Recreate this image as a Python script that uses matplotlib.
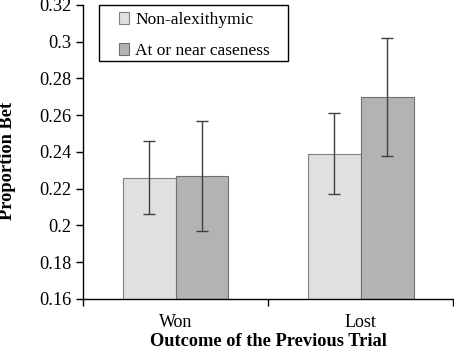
import matplotlib
matplotlib.use("Agg")
import matplotlib.pyplot as plt
from matplotlib.patches import Rectangle
import numpy as np

categories = ["Won", "Lost"]
series_names = ["Non-alexithymic", "At or near caseness"]
non_alex = [0.226, 0.239]
non_alex_lo = [0.206, 0.217]
non_alex_hi = [0.246, 0.261]
caseness = [0.227, 0.270]
caseness_lo = [0.197, 0.238]
caseness_hi = [0.257, 0.302]
yticks = [0.16, 0.18, 0.2, 0.22, 0.24, 0.26, 0.28, 0.3, 0.32]
ytick_labels = ["0.16", "0.18", "0.2", "0.22", "0.24", "0.26", "0.28", "0.3", "0.32"]

plt.rcParams['font.family'] = ['Liberation Serif', 'DejaVu Serif']

fig = plt.figure(figsize=(4.54, 3.5), dpi=100)
ax = fig.add_axes([0.183, 0.146, 0.815, 0.840])

x = np.arange(len(categories))
w = 0.286
na = np.array(non_alex); ca = np.array(caseness)
err_na = [na - np.array(non_alex_lo), np.array(non_alex_hi) - na]
err_ca = [ca - np.array(caseness_lo), np.array(caseness_hi) - ca]
ekw = dict(ecolor="#404040", elinewidth=1.0, capsize=4.5, capthick=1.0)
ax.bar(x - w/2, na, w, bottom=0, color="#e0e0e0", edgecolor="#808080", linewidth=0.8,
       yerr=err_na, error_kw=ekw, label=series_names[0])
ax.bar(x + w/2, ca, w, bottom=0, color="#b3b3b3", edgecolor="#707070", linewidth=0.8,
       yerr=err_ca, error_kw=ekw, label=series_names[1])

ax.set_ylim(0.16, 0.32)
ax.set_xlim(-0.5, 1.5)
ax.set_yticks(yticks)
ax.set_yticklabels(ytick_labels, fontsize=13.2)
ax.set_xticks([-0.5, 0.5, 1.5])
ax.set_xticklabels([])
ax.set_xticks(x, minor=True)
ax.set_xticklabels(categories, minor=True, fontsize=13)
ax.tick_params(axis='x', which='minor', length=0, pad=11)
ax.tick_params(axis='x', which='major', length=5, direction='out', width=1)
ax.tick_params(axis='y', length=5, direction='out', width=1)
for s in ["top", "right"]:
    ax.spines[s].set_visible(False)
for s in ["left", "bottom"]:
    ax.spines[s].set_linewidth(1.0)

ax.set_ylabel("Proportion Bet", fontsize=13.2, fontweight="bold")
ax.yaxis.set_label_coords(-0.180, 0.47)
ax.set_xlabel("Outcome of the Previous Trial", fontsize=13.2, fontweight="bold")
ax.xaxis.set_label_coords(0.5, -0.115)

# legend frame
ax.add_patch(Rectangle((0.043, 0.81), 0.511, 0.19, transform=ax.transAxes,
                       facecolor="white", edgecolor="black", linewidth=1.0,
                       clip_on=False, zorder=4))
leg = ax.legend(loc="upper left", bbox_to_anchor=(0.097, 0.975), fontsize=12.5,
                frameon=False, handlelength=0.6, handleheight=0.7, handletextpad=0.35,
                borderpad=0.0, labelspacing=0.85, borderaxespad=0)
leg.set_zorder(5)

fig.savefig("out.png", dpi=100)
